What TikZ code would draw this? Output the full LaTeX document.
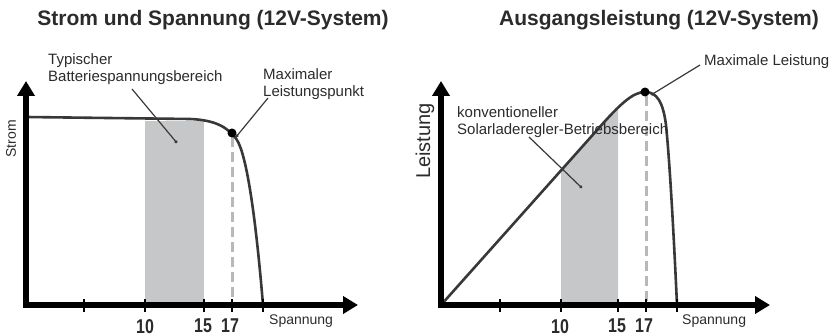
\documentclass[tikz,border=0pt]{standalone}
\usepackage{fontspec}
\setmainfont{Liberation Sans}
\usetikzlibrary{arrows.meta}
\definecolor{ink}{HTML}{2B2B2B}
\definecolor{curvecol}{HTML}{383838}
\definecolor{band}{HTML}{C6C7C9}
\definecolor{guide}{HTML}{B8B8B8}
\begin{document}
\begin{tikzpicture}[x=1pt,y=-1pt,
  axis/.style={line width=5.5pt,black,{Triangle[width=17pt,length=15pt]}-{Triangle[width=17pt,length=15pt]}},
  tick/.style={line width=1.5pt,black},
  curve/.style={line width=2.6pt,curvecol,line join=round},
  guideline/.style={line width=3pt,guide,dash pattern=on 10pt off 5pt},
  pointer/.style={line width=1.2pt,curvecol,-{Circle[length=3.2pt]}},
  mpp/.style={circle,fill=black,inner sep=0pt,minimum size=9pt},
  title/.style={font=\fontsize{21}{24}\selectfont\bfseries,text=ink,inner sep=0pt},
  label/.style={font=\fontsize{15}{17.5}\selectfont,text=ink,inner sep=0pt,align=left,anchor=north west},
  tnum/.style={font=\fontsize{20}{22}\selectfont\bfseries,text=ink,inner sep=0pt,anchor=north},
  xname/.style={font=\fontsize{14}{16}\selectfont,text=ink,inner sep=0pt,anchor=north west},
]
\useasboundingbox (0,0) rectangle (834,336);

% ---------------- left chart: current vs. voltage ----------------
\node[title] (titleL) at (213,20) {Strom und Spannung (12V-System)};

\fill[band] (145,121) rectangle (204,305);
\draw[guideline] (232,137) -- (232,305);
\draw[curve] (26,117) -- (190,119) .. controls (215,120) and (228,127) .. (237,140)
  .. controls (247,156) and (256,220) .. (263,305);
\node[mpp] (mppL) at (232,133) {};

\coordinate (yTipL) at (26,81);
\coordinate (xTipL) at (358,305);
\draw[axis] (yTipL) |- (xTipL);
\foreach \x in {84,145,204,232,263} \draw[tick] (\x,299) -- (\x,312);

\node[tnum] (tL10) at (145,319) {\scalebox{0.8}[1]{10}};
\node[tnum] (tL15) at (203,319) {\scalebox{0.8}[1]{15}};
\node[tnum] (tL17) at (230,319) {\scalebox{0.8}[1]{17}};
\node[xname] (xnameL) at (269,315) {Spannung};
\node[font=\fontsize{14}{16}\selectfont,text=ink,inner sep=0pt,rotate=90] (ynameL) at (11,139) {Strom};

\node[label] (bandL) at (48,53) {Typischer\\Batteriespannungsbereich};
\node[label] (mppTextL) at (263,68) {Maximaler\\Leistungspunkt};
\coordinate (bandLfrom) at (132,89);
\coordinate (bandLto) at (177,143);
\draw[pointer] (bandLfrom) -- (bandLto);
\coordinate (mppLfrom) at (268,98);
\draw[pointer] (mppLfrom) -- ([shift={(4pt,-4pt)}]mppL.center);

% ---------------- right chart: output power ----------------
\node[title] (titleR) at (659,20) {Ausgangsleistung (12V-System)};

\begin{scope}
  \clip (561,0) rectangle (618,305);
  \fill[band] (441,305) -- (598,129) .. controls (620,104) and (633,92) .. (645,92)
    .. controls (657,92) and (663,102) .. (666,125) .. controls (670,165) and (674,240) .. (677,305) -- cycle;
\end{scope}
\draw[guideline] (646,96) -- (646,305);
\draw[curve] (441,305) -- (598,129) .. controls (620,104) and (633,92) .. (645,92)
  .. controls (657,92) and (663,102) .. (666,125) .. controls (670,165) and (674,240) .. (677,305);
\node[mpp] (mppR) at (645,92) {};

\coordinate (yTipR) at (441,81);
\coordinate (xTipR) at (770,305);
\draw[axis] (yTipR) |- (xTipR);
\foreach \x in {500,561,618,646,677} \draw[tick] (\x,299) -- (\x,312);

\node[tnum] (tR10) at (560,319) {\scalebox{0.8}[1]{10}};
\node[tnum] (tR15) at (617,319) {\scalebox{0.8}[1]{15}};
\node[tnum] (tR17) at (644,319) {\scalebox{0.8}[1]{17}};
\node[xname] (xnameR) at (682,315) {Spannung};
\node[font=\fontsize{20}{22}\selectfont,text=ink,inner sep=0pt,rotate=90] (ynameR) at (425,141) {Leistung};

\node[label] (bandR) at (457,106) {konventioneller\\Solarladeregler-Betriebsbereich};
\node[label] (mppTextR) at (704,54) {Maximale Leistung};
\coordinate (bandRfrom) at (529,137);
\coordinate (bandRto) at (582,188);
\draw[pointer] (bandRfrom) -- (bandRto);
\coordinate (mppRfrom) at (700,65);
\draw[pointer] (mppRfrom) -- ([shift={(6pt,-3pt)}]mppR.center);
\end{tikzpicture}
\end{document}
